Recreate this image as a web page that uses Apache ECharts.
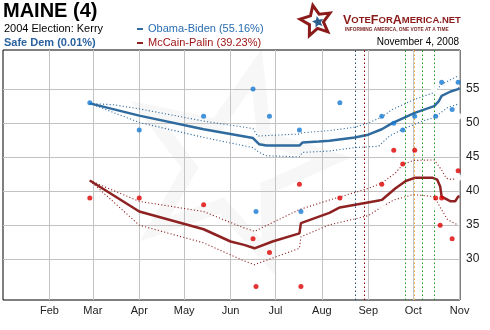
<!DOCTYPE html>
<html><head><meta charset="utf-8">
<script src="https://cdn.jsdelivr.net/npm/echarts@6/dist/echarts.min.js"></script>
<style>html,body{margin:0;padding:0;background:#fff}#c{width:490px;height:330px}</style>
</head><body><div id="c"></div>
<script>
// ---------- data ----------
const monthTicks = ['2008-02-01','2008-03-01','2008-04-01','2008-05-01','2008-06-01','2008-07-01','2008-08-01','2008-09-01','2008-10-01','2008-11-01'];
const monthLabels = ['Feb','Mar','Apr','May','Jun','Jul','Aug','Sep','Oct','Nov'];
const yTicks = [30,35,40,45,50,55];

const obamaPollDates = ['2008-02-28','2008-04-01','2008-05-14','2008-06-16','2008-06-18','2008-06-27','2008-07-17','2008-07-18','2008-08-13','2008-09-10','2008-09-18','2008-09-24','2008-10-02','2008-10-16','2008-10-20','2008-10-27','2008-10-31'];
const obamaPollValues = [53,49,51,55,37,51,49,37,53,51,50,49,51,51,56,52,56];
const mccainPollDates = ['2008-02-28','2008-04-01','2008-05-14','2008-06-16','2008-06-18','2008-06-27','2008-07-17','2008-07-18','2008-08-13','2008-09-10','2008-09-18','2008-09-24','2008-10-02','2008-10-16','2008-10-20','2008-10-19','2008-10-27','2008-10-31'];
const mccainPollValues = [39,39,38,33,26,31,41,26,39,41,46,44,46,39,39,35,33,43];
const obamaOpenDates = ['2008-09-10','2008-10-15','2008-10-31'];
const obamaOpenValues = [52,55,51];
const mccainOpenDates = ['2008-09-10','2008-10-15','2008-10-31'];
const mccainOpenValues = [38,38,42];

const obamaTrendDates = ['2008-02-28','2008-04-01','2008-05-14','2008-06-16','2008-06-20','2008-06-25','2008-07-17','2008-07-19','2008-07-30','2008-08-06','2008-08-23','2008-09-01','2008-09-10','2008-09-17','2008-09-24','2008-10-02','2008-10-15','2008-10-18','2008-10-20','2008-10-26','2008-10-31','2008-11-01'];
const obamaTrendValues = [52.9,51.1,49.1,47.8,46.9,46.7,46.7,47.15,47.3,47.4,47.9,48.3,49.1,50.0,50.7,51.5,52.5,53.2,54.0,54.65,55.0,55.16];
const obamaUpperDates = ['2008-02-28','2008-03-15','2008-04-01','2008-05-14','2008-06-16','2008-06-19','2008-07-17','2008-07-19','2008-08-06','2008-08-23','2008-09-01','2008-09-10','2008-09-17','2008-10-01','2008-10-15','2008-10-20','2008-10-31'];
const obamaUpperValues = [52.9,52.7,52.1,50.3,49.2,48.1,48.4,48.6,48.9,49.4,50.0,50.9,52.0,53.4,54.5,55.7,56.95];
const obamaLowerDates = ['2008-02-28','2008-04-01','2008-05-14','2008-06-16','2008-06-20','2008-06-25','2008-07-17','2008-07-19','2008-08-06','2008-08-23','2008-09-08','2008-09-15','2008-09-24','2008-10-07','2008-10-15','2008-10-24','2008-10-31'];
const obamaLowerValues = [52.9,50.1,47.9,46.4,45.7,45.2,45.05,45.7,45.9,46.4,46.6,48.1,49.1,50.3,50.8,52.3,52.8];

const mccainTrendDates = ['2008-02-28','2008-04-01','2008-05-14','2008-06-01','2008-06-10','2008-06-17','2008-06-29','2008-07-17','2008-07-18','2008-08-06','2008-08-13','2008-09-10','2008-09-19','2008-09-26','2008-10-02','2008-10-14','2008-10-17','2008-10-19','2008-10-20','2008-10-21','2008-10-26','2008-10-29','2008-10-31','2008-11-01'];
const mccainTrendValues = [41.56,37.0,34.4,32.6,32.1,31.6,32.6,33.8,35.3,36.8,37.6,38.7,40.4,41.5,41.96,41.96,41.7,40.7,39.2,39.0,38.5,38.5,39.2,39.23];
const mccainUpperDates = ['2008-02-28','2008-04-01','2008-05-14','2008-06-10','2008-06-17','2008-07-17','2008-08-06','2008-09-01','2008-09-10','2008-09-19','2008-09-24','2008-10-01','2008-10-15','2008-10-20','2008-10-23','2008-10-27','2008-10-31'];
const mccainUpperValues = [41.56,38.5,37.0,34.6,34.1,37.3,38.7,40.4,41.2,42.65,43.9,44.5,44.6,43.1,41.9,41.7,42.0];
const mccainLowerDates = ['2008-02-28','2008-04-01','2008-05-14','2008-06-10','2008-06-17','2008-07-17','2008-07-18','2008-08-06','2008-09-01','2008-09-10','2008-09-18','2008-10-01','2008-10-15','2008-10-20','2008-10-24','2008-10-31'];
const mccainLowerValues = [41.56,35.0,32.4,29.75,29.2,31.6,33.3,35.05,36.4,37.7,38.7,39.5,39.2,37.25,35.8,35.0];

const eventDates = ['2008-08-23','2008-08-29','2008-09-26','2008-10-02','2008-10-07','2008-10-15'];
const eventColors = ['#1f4e79','#8b0000','#1a9a1a','#f0a020','#1a9a1a','#1a9a1a'];

const stateTitle = 'MAINE (4)';
const prevElection = '2004 Election: Kerry';
const statusText = 'Safe Dem (0.01%)';
const obamaName = 'Obama-Biden (55.16%)';
const mccainName = 'McCain-Palin (39.23%)';
const dateText = 'November 4, 2008';
const axisStart = '2008-01-01';
const axisEnd = '2008-11-01 06:00';

// ---------- helpers ----------
const parseT = s => {
  const m = s.match(/(\d+)-(\d+)-(\d+)(?:\s+(\d+):(\d+))?/);
  return new Date(+m[1], +m[2] - 1, +m[3], m[4] ? +m[4] : 0, m[5] ? +m[5] : 0).getTime();
};
const zip = (d, v) => d.map((x, i) => [parseT(x), v[i]]);
const tickTimes = monthTicks.map(parseT);

function starPoints(cx, cy, R, r, rot) {
  const pts = [];
  for (let i = 0; i < 10; i++) {
    const rad = (i % 2 === 0) ? R : r;
    const a = -Math.PI / 2 + rot + i * Math.PI / 5;
    pts.push([cx + rad * Math.cos(a), cy + rad * Math.sin(a)]);
  }
  return pts;
}

const BLUE_LINE = '#2f6b9e', RED_LINE = '#8e2222';
const BLUE_DOT = '#1479d1', RED_DOT = '#dd0000';

const chart = echarts.init(document.getElementById('c'), null, {renderer: 'canvas'});

const bandStyle = c => ({type: 'line', symbol: 'none', silent: true, z: 3,
  lineStyle: {color: c, width: 1.1, type: [1.1, 2.2]}});

chart.setOption({
  animation: false,
  grid: {left: 3, right: 30, top: 50, bottom: 30, show: true, borderColor: '#000', borderWidth: 1, outerBoundsMode: 'none'},
  xAxis: {
    type: 'value', min: parseT(axisStart), max: parseT(axisEnd),
    axisLine: {show: false},
    axisTick: {show: false, customValues: tickTimes},
    axisLabel: {customValues: tickTimes, color: '#222', fontSize: 11, margin: 5, fontFamily: 'Liberation Sans, Arial',
      formatter: v => { const i = tickTimes.findIndex(t => Math.abs(t - v) < 43200000); return i >= 0 ? monthLabels[i] : ''; }},
    splitLine: {show: true, lineStyle: {color: '#c2c2c2', width: 1}}
  },
  yAxis: {
    type: 'value', position: 'right', min: 24, max: 60.75,
    axisLine: {show: false},
    axisTick: {show: false, customValues: yTicks},
    axisLabel: {customValues: yTicks, color: '#222', fontSize: 12, margin: 6, fontFamily: 'Liberation Sans, Arial'},
    splitLine: {show: true, lineStyle: {color: '#c2c2c2', width: 1}}
  },
  graphic: [
    {type: 'polygon', z: -10, silent: true, shape: {points: starPoints(232, 165, 100, 42, 0.25)},
      style: {fill: 'none', stroke: '#f7f7f7', lineWidth: 14}},
    {type: 'text', left: 3, top: 1, style: {text: stateTitle, font: 'bold 20px "Liberation Sans", Arial', fill: '#000'}},
    {type: 'text', left: 4, top: 23, style: {text: prevElection, font: '11px "Liberation Sans", Arial', fill: '#000'}},
    {type: 'text', left: 4, top: 37, style: {text: statusText, font: 'bold 11px "Liberation Sans", Arial', fill: '#2a62a0'}},
    {type: 'rect', shape: {x: 137, y: 28, width: 6, height: 2}, style: {fill: BLUE_LINE}},
    {type: 'text', left: 148, top: 23, style: {text: obamaName, font: '11px "Liberation Sans", Arial', fill: '#2a6db0'}},
    {type: 'rect', shape: {x: 137, y: 42, width: 6, height: 2}, style: {fill: RED_LINE}},
    {type: 'text', left: 148, top: 37, style: {text: mccainName, font: '11px "Liberation Sans", Arial', fill: '#a01818'}},
    {type: 'polygon', shape: {points: starPoints(316, 21, 16, 7.5, -0.2)}, style: {fill: 'none', stroke: '#8b1a1a', lineWidth: 3}},
    {type: 'polygon', shape: {points: starPoints(318, 22, 6, 2.8, -0.2)}, style: {fill: '#2a5f8f'}},
    {type: 'text', left: 343, top: 14, style: {
      text: '{b|V}{s|OTE}{b|F}{s|OR}{b|A}{s|MERICA.NET}',
      rich: {b: {font: 'bold 12.5px "Liberation Sans", Arial', fill: '#8b1a1a'}, s: {font: 'bold 9.5px "Liberation Sans", Arial', fill: '#8b1a1a'}}}},
    {type: 'text', left: 345, top: 27.5, style: {text: 'INFORMING AMERICA, ONE VOTE AT A TIME', font: 'bold 4.8px "Liberation Sans", Arial', fill: '#7a1f1f'}},
    {type: 'text', right: 31, top: 37, style: {text: dateText, font: '10px "Liberation Sans", Arial', fill: '#000'}}
  ],
  series: [
    Object.assign(bandStyle(BLUE_LINE), {name: 'obamaUpper', data: zip(obamaUpperDates, obamaUpperValues)}),
    Object.assign(bandStyle(BLUE_LINE), {name: 'obamaLower', data: zip(obamaLowerDates, obamaLowerValues)}),
    Object.assign(bandStyle(RED_LINE), {name: 'mccainUpper', data: zip(mccainUpperDates, mccainUpperValues)}),
    Object.assign(bandStyle(RED_LINE), {name: 'mccainLower', data: zip(mccainLowerDates, mccainLowerValues)}),
    {name: obamaName, type: 'line', symbol: 'none', silent: true, z: 4, data: zip(obamaTrendDates, obamaTrendValues),
      lineStyle: {color: BLUE_LINE, width: 2.5}},
    {name: mccainName, type: 'line', symbol: 'none', silent: true, z: 4, data: zip(mccainTrendDates, mccainTrendValues),
      lineStyle: {color: RED_LINE, width: 2.5}},
    {name: 'obamaPolls', type: 'scatter', symbol: 'circle', symbolSize: 5, z: 5, itemStyle: {color: BLUE_DOT},
      data: zip(obamaPollDates, obamaPollValues),
      markLine: {silent: true, symbol: 'none', label: {show: false}, animation: false,
        data: eventDates.map((d, i) => ({xAxis: parseT(d), lineStyle: {color: eventColors[i], type: [1.5, 2.5], width: 1}}))}},
    {name: 'mccainPolls', type: 'scatter', symbol: 'circle', symbolSize: 5, z: 5, itemStyle: {color: RED_DOT},
      data: zip(mccainPollDates, mccainPollValues)},
    {name: 'obamaOpen', type: 'scatter', symbol: 'emptyCircle', symbolSize: 5, z: 5, itemStyle: {color: '#fff', borderColor: '#4a86bd', borderWidth: 1},
      data: zip(obamaOpenDates, obamaOpenValues)},
    {name: 'mccainOpen', type: 'scatter', symbol: 'emptyCircle', symbolSize: 5, z: 5, itemStyle: {color: '#fff', borderColor: '#b06060', borderWidth: 1},
      data: zip(mccainOpenDates, mccainOpenValues)}
  ]
});
</script></body></html>
